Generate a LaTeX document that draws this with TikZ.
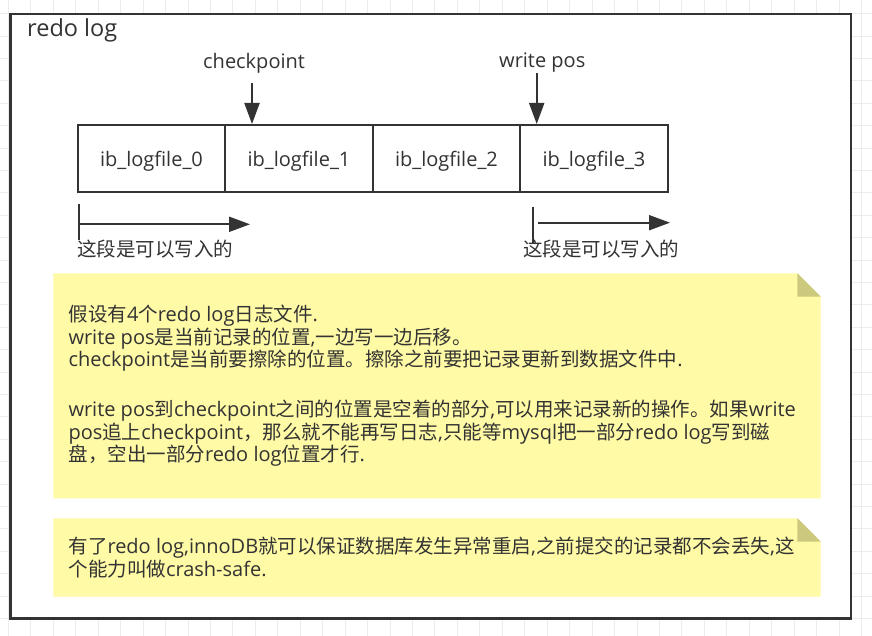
\documentclass[tikz,border=0pt]{standalone}
\usepackage{fontspec}
\setmainfont{Open Sans}
\newfontfamily\cjkf{Noto Sans CJK SC}[Scale=0.975]
\newfontfamily\latf{Open Sans}
\XeTeXinterchartokenstate=1
\newXeTeXintercharclass\CJKcls
\makeatletter
\def\setcjkrange#1#2{\count@=#1\relax\loop\XeTeXcharclass\count@=\CJKcls\relax\ifnum\count@<#2\relax\advance\count@\@ne\repeat}
\setcjkrange{"4E00}{"9FFF}
\setcjkrange{"3000}{"303F}
\setcjkrange{"FF00}{"FFEF}
\makeatother
\XeTeXinterchartoks 0 \CJKcls = {\cjkf}
\XeTeXinterchartoks 4095 \CJKcls = {\cjkf}
\XeTeXinterchartoks \CJKcls 0 = {\latf}
\XeTeXinterchartoks \CJKcls 4095 = {\latf}
\usetikzlibrary{arrows.meta}
\definecolor{ink}{RGB}{51,51,51}
\definecolor{gridc}{RGB}{236,236,236}
\definecolor{notey}{RGB}{255,250,165}
\definecolor{foldc}{RGB}{204,200,125}
\begin{document}
\begin{tikzpicture}[x=1pt,y=-1pt,
  txt/.style={font=\fontsize{20pt}{24pt}\selectfont, text=ink, inner sep=0pt},
  ttl/.style={font=\fontsize{23.5pt}{28pt}\selectfont, text=ink, inner sep=0pt},
  filebox/.style={draw=ink, line width=2pt, minimum width=147.5pt, minimum height=67.5pt,
    inner sep=0pt, text height=15pt, text depth=0pt, font=\fontsize{20pt}{24pt}\selectfont, text=ink},
  framebox/.style={draw=ink, line width=2.6pt, fill=white, inner sep=0pt},
  arr/.style={draw=ink, line width=2pt, -{Triangle[length=21pt,width=15pt]}},
  tickline/.style={draw=ink, line width=2pt},
  gridline/.style={draw=gridc, line width=0.8pt},
]
\useasboundingbox (0,0) rectangle (872,636);
% background grid
\foreach \i in {0,...,38} \draw[gridline] ({8.3+22.45*\i},0) -- ({8.3+22.45*\i},636);
\foreach \j in {-1,...,28} \draw[gridline] (0,{13.6+22.4*\j}) -- (872,{13.6+22.4*\j});
% outer frame
\node[framebox, minimum width=840.3pt, minimum height=604.3pt] (frame) at (430.85,316.15) {};
\node[ttl, anchor=base west] (title) at (27,36.7) {redo log};
% log files
\node[filebox] (f0) at (151.45,158.75) {ib\_logfile\_0};
\node[filebox] (f1) at (298.95,158.75) {ib\_logfile\_1};
\node[filebox] (f2) at (446.45,158.75) {ib\_logfile\_2};
\node[filebox] (f3) at (593.95,158.75) {ib\_logfile\_3};
% pointers
\node[txt, anchor=base west] (cp) at (203,68.3) {checkpoint};
\node[txt, anchor=base west] (wp) at (499,67.5) {write pos};
\coordinate (cpTop) at (252,83);
\coordinate (wpTop) at (536.7,73);
\draw[arr] (cpTop) -- (cpTop |- f1.north);
\draw[arr] (wpTop) -- (wpTop |- f3.north);
% writable ranges
\coordinate (lTickA) at (79,204);
\coordinate (lTickB) at (79,240);
\coordinate (lArrA) at (79,224.3);
\coordinate (lArrB) at (250,224.3);
\draw[tickline] (lTickA) -- (lTickB);
\draw[arr] (lArrA) -- (lArrB);
\node[txt, anchor=base west] (lLab) at (77,256) {这段是可以写入的};
\coordinate (rTickA) at (533.3,206.7);
\coordinate (rTickB) at (533.3,243);
\coordinate (rArrA) at (538,222.7);
\coordinate (rArrB) at (670,222.7);
\draw[tickline] (rTickA) -- (rTickB);
\draw[arr] (rArrA) -- (rArrB);
\node[txt, anchor=base west] (rLab) at (523,256) {这段是可以写入的};
% note 1
\fill[notey] (53.3,273.3) -- (797.3,273.3) -- (820.7,296.7) -- (820.7,498.3) -- (53.3,498.3) -- cycle;
\fill[foldc] (797.3,273.3) -- (797.3,296.7) -- (820.7,296.7) -- cycle;
\node[txt, anchor=base west] (n1a) at (68.3,321.7) {假设有4个redo log日志文件.};
\node[txt, anchor=base west] (n1b) at (68.3,344) {write pos是当前记录的位置,一边写一边后移。};
\node[txt, anchor=base west] (n1c) at (68.3,366) {checkpoint是当前要擦除的位置。擦除之前要把记录更新到数据文件中.};
\node[txt, anchor=base west] (n1d) at (68.3,416.7) {write pos到checkpoint之间的位置是空着的部分,可以用来记录新的操作。如果write};
\node[txt, anchor=base west] (n1e) at (68.3,439) {pos追上checkpoint，那么就不能再写日志,只能等mysql把一部分redo log写到磁};
\node[txt, anchor=base west] (n1f) at (68.3,461.3) {盘，空出一部分redo log位置才行.};
% note 2
\fill[notey] (53.3,518.3) -- (797.3,518.3) -- (820.7,541.7) -- (820.7,596.7) -- (53.3,596.7) -- cycle;
\fill[foldc] (797.3,518.3) -- (797.3,541.7) -- (820.7,541.7) -- cycle;
\node[txt, anchor=base west] (n2a) at (68.3,553.3) {有了redo log,innoDB就可以保证数据库发生异常重启,之前提交的记录都不会丢失,这};
\node[txt, anchor=base west] (n2b) at (68.3,576) {个能力叫做crash-safe.};
\end{tikzpicture}
\end{document}
